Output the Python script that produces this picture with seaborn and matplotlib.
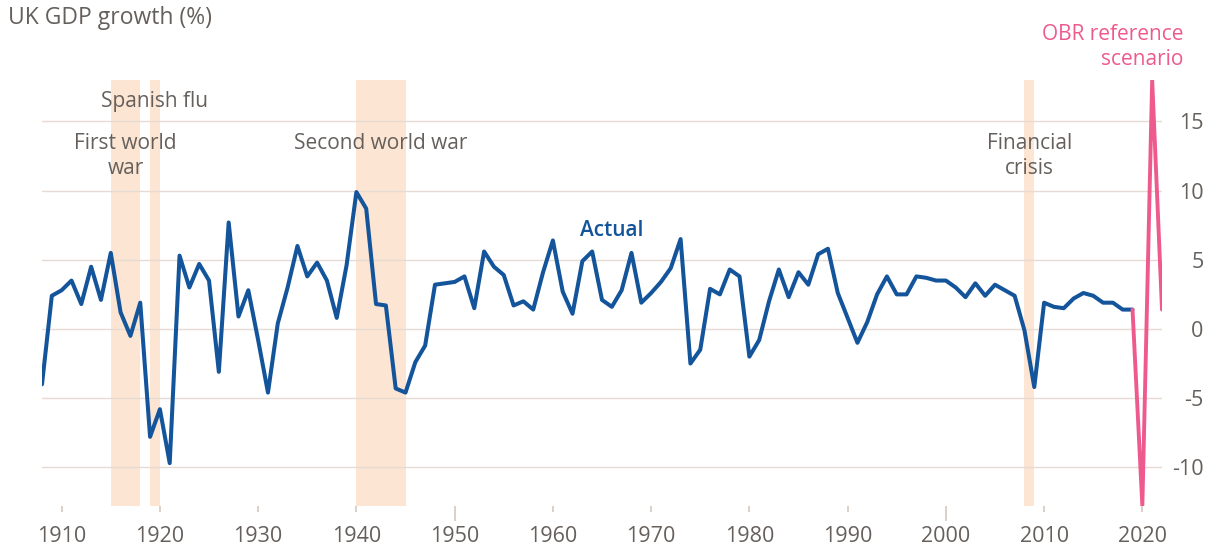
import matplotlib
matplotlib.use("Agg")
import matplotlib.pyplot as plt
import pandas as pd
import seaborn as sns

# UK GDP growth (%)
anos_reais = list(range(1908, 2020))
crescimento_real = [
    -4.0, 2.4,                                              # 1908-1909
    2.8, 3.5, 1.8, 4.5, 2.1, 5.5, 1.2, -0.5, 1.9, -7.8,     # 1910s
    -5.8, -9.7, 5.3, 3.0, 4.7, 3.5, -3.1, 7.7, 0.9, 2.8,    # 1920s
    -0.8, -4.6, 0.4, 3.0, 6.0, 3.8, 4.8, 3.5, 0.8, 4.6,     # 1930s
    9.9, 8.7, 1.8, 1.7, -4.3, -4.6, -2.4, -1.2, 3.2, 3.3,   # 1940s
    3.4, 3.8, 1.5, 5.6, 4.5, 3.9, 1.7, 2.0, 1.4, 4.1,       # 1950s
    6.4, 2.7, 1.1, 4.9, 5.6, 2.1, 1.6, 2.8, 5.5, 1.9,       # 1960s
    2.6, 3.4, 4.4, 6.5, -2.5, -1.5, 2.9, 2.5, 4.3, 3.8,     # 1970s
    -2.0, -0.8, 2.0, 4.3, 2.3, 4.1, 3.2, 5.4, 5.8, 2.6,     # 1980s
    0.8, -1.0, 0.5, 2.5, 3.8, 2.5, 2.5, 3.8, 3.7, 3.5,      # 1990s
    3.5, 3.0, 2.3, 3.3, 2.4, 3.2, 2.8, 2.4, -0.1, -4.2,     # 2000s
    1.9, 1.6, 1.5, 2.2, 2.6, 2.4, 1.9, 1.9, 1.4, 1.4,       # 2010s
]

anos_obr = [2019, 2020, 2021, 2022]
crescimento_obr = [1.4, -12.8, 18.0, 1.4]

# periodos sombreados
periodos = [(1915, 1918), (1919, 1920), (1940, 1945), (2008, 2009)]

ticks_x = list(range(1910, 2030, 10))
ticks_y = [-10, -5, 0, 5, 10, 15]

df_real = pd.DataFrame({"ano": anos_reais, "pib": crescimento_real})
df_obr = pd.DataFrame({"ano": anos_obr, "pib": crescimento_obr})

sns.set_theme(style="white")
plt.rcParams["font.family"] = ["Open Sans", "DejaVu Sans"]
plt.rcParams["axes.unicode_minus"] = False

AZUL = "#13549a"
ROSA = "#ee5a8e"
CINZA = "#66605c"
GRADE = "#e6dbd2"
SOMBRA = "#fde5d3"

fig = plt.figure(figsize=(12.19, 5.49), dpi=100)
ax = fig.add_axes([42 / 1219, 1 - 506 / 549, 1120 / 1219, 426 / 549])

for ini, fim in periodos:
    ax.axvspan(ini, fim, color=SOMBRA, lw=0, zorder=0)

for v in ticks_y:
    ax.axhline(v, color=GRADE, lw=1.0, zorder=1)

sns.lineplot(data=df_real, x="ano", y="pib", color=AZUL, linewidth=2.9, ax=ax, zorder=3)
sns.lineplot(data=df_obr, x="ano", y="pib", color=ROSA, linewidth=2.8, ax=ax, zorder=4)

ax.set_xlim(1908, 2022)
ax.set_ylim(-12.8, 18.0)
ax.set_xlabel("")
ax.set_ylabel("")
for s in ax.spines.values():
    s.set_visible(False)

ax.set_xticks(ticks_x)
ax.tick_params(axis="x", length=4.5, width=1.2, color="#d3c8c0", pad=10,
               labelsize=15.5, labelcolor=CINZA, bottom=True)
for t, ano in zip(ax.xaxis.get_major_ticks(), ticks_x):
    if ano in (1950, 2000):
        t.tick1line.set_markersize(11)

ax.yaxis.tick_right()
ax.set_yticks(ticks_y)
ax.tick_params(axis="y", length=0, pad=30, labelsize=15.5, labelcolor=CINZA)
for lab in ax.get_yticklabels():
    lab.set_horizontalalignment("right")

# anotacoes
ax.text(1919.5, 16.45, "Spanish flu", ha="center", va="center", fontsize=15, color=CINZA)
ax.text(1916.5, 12.5, "First world\nwar", ha="center", va="center", fontsize=15,
        color=CINZA, linespacing=1.2)
ax.text(1942.5, 13.4, "Second world war", ha="center", va="center", fontsize=15, color=CINZA)
ax.text(2008.5, 12.5, "Financial\ncrisis", ha="center", va="center", fontsize=15,
        color=CINZA, linespacing=1.2)
ax.text(1966, 7.15, "Actual", ha="center", va="center", fontsize=15, color=AZUL,
        fontweight="semibold")
fig.text(1183 / 1219, 1 - 47 / 549, "OBR reference\nscenario", ha="right", va="center",
         fontsize=15, color=ROSA, linespacing=1.2)

fig.text(8 / 1219, 1 - 18 / 549, "UK GDP growth (%)", ha="left", va="center",
         fontsize=16.5, color=CINZA)

fig.savefig("out.png", dpi=100, facecolor="white")
